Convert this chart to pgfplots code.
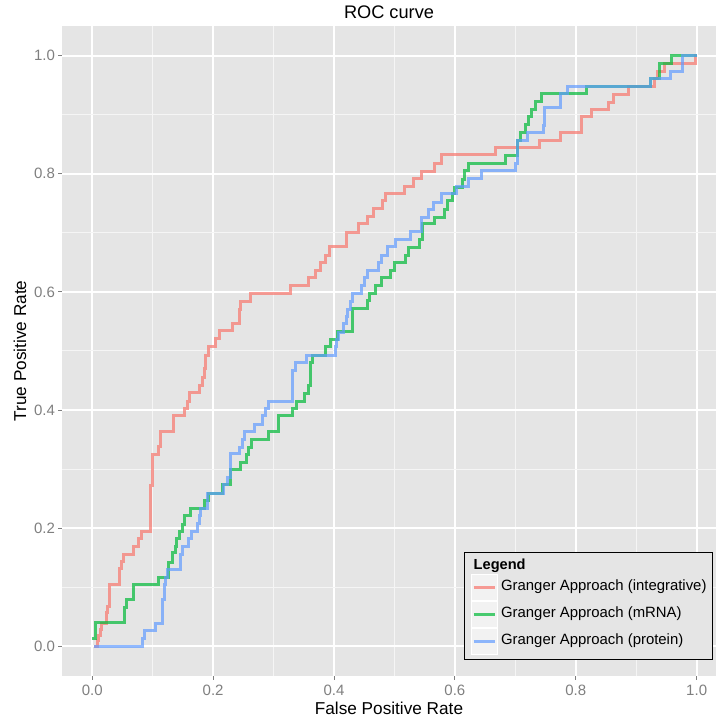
\documentclass[border=0pt]{standalone}
\usepackage{fontspec}
\setmainfont{Liberation Sans}
\usepackage{pgfplots}
\pgfplotsset{compat=1.18}

\definecolor{panel}{HTML}{E5E5E5}
\definecolor{keybg}{HTML}{F2F2F2}
\definecolor{minorgrid}{HTML}{F5F5F5}
\definecolor{ticktext}{HTML}{7F7F7F}
\definecolor{rocred}{HTML}{F8766D}
\definecolor{rocgreen}{HTML}{00BA38}
\definecolor{rocblue}{HTML}{619CFF}

\begin{document}
\begin{tikzpicture}
\begin{axis}[
    name=ax,
    scale only axis,
    width=327pt, height=325pt,
    xmin=-0.05, xmax=1.032, ymin=-0.05, ymax=1.05,
    axis background/.style={fill=panel},
    axis line style={draw=none},
    xtick={0,0.2,0.4,0.6,0.8,1}, ytick={0,0.2,0.4,0.6,0.8,1},
    xticklabels={0.0,0.2,0.4,0.6,0.8,1.0},
    yticklabels={0.0,0.2,0.4,0.6,0.8,1.0},
    minor xtick={0.1,0.3,0.5,0.7,0.9}, minor ytick={0.1,0.3,0.5,0.7,0.9},
    grid=both,
    major grid style={white, line width=1pt},
    minor grid style={minorgrid, line width=0.5pt},
    tick pos=left,
    tick align=outside,
    major tick length=2pt,
    minor tick length=0pt,
    tick style={ticktext, line width=0.5pt},
    tick label style={font=\fontsize{7.5}{9}\selectfont, text=ticktext},
    yticklabel style={xshift=2pt},
    xticklabel style={yshift=1pt},
    title={ROC curve},
    title style={font=\fontsize{9.1}{11}\selectfont, at={(axis description cs:0.5,1.003)}, anchor=center},
    xlabel={False Positive Rate},
    ylabel={True Positive Rate},
    xlabel style={font=\fontsize{8.6}{10}\selectfont, at={(axis description cs:0.5,-0.0492)}, anchor=center},
    ylabel style={font=\fontsize{8.6}{10}\selectfont, at={(axis description cs:-0.0642,0.5)}, anchor=center},
    legend style={at={(axis description cs:0.9954,0.0246)}, anchor=south east,
        draw=black, line width=0.5pt, fill=panel,
        inner xsep=3pt, inner ysep=2.5pt, row sep=0pt, column sep=1.7pt,
        font=\fontsize{7.45}{9}\selectfont, nodes={inner sep=0pt}},
    legend cell align=left,
    legend image code/.code={%
        \draw[draw=white, fill=keybg, line width=0.5pt, draw opacity=1] (0pt,-6.5pt) rectangle (13pt,6.5pt);
        \draw[#1] (1.2pt,0pt) -- (11.8pt,0pt);
    },
]

\addlegendimage{legend image code/.code={%
    \path[draw=none, fill=none] (0pt,-4pt) rectangle (13pt,4pt);
    \node[overlay, draw=none, fill=none, anchor=west, inner sep=0pt, font=\bfseries\fontsize{7.3}{9}\selectfont] at (1pt,0pt) {Legend};}}
\addlegendentry{}

% integrative
\addplot[rocred, line width=1.5pt, draw opacity=0.7] coordinates {
(0.003,0) (0.008,0) (0.008,0.010) (0.011,0.010) (0.011,0.018) (0.014,0.018) (0.014,0.028) (0.016,0.028)
(0.016,0.038) (0.023,0.038) (0.023,0.057) (0.026,0.057) (0.026,0.067) (0.029,0.067) (0.029,0.104) (0.045,0.104)
(0.045,0.132) (0.048,0.132) (0.048,0.143) (0.051,0.143) (0.051,0.156) (0.069,0.156) (0.069,0.169) (0.077,0.169)
(0.077,0.182) (0.081,0.182) (0.081,0.195) (0.096,0.195) (0.096,0.272) (0.099,0.272) (0.099,0.325) (0.110,0.325)
(0.110,0.338) (0.113,0.338) (0.113,0.364) (0.135,0.364) (0.135,0.391) (0.153,0.391) (0.153,0.402) (0.157,0.402)
(0.157,0.415) (0.161,0.415) (0.161,0.429) (0.177,0.429) (0.177,0.441) (0.182,0.441) (0.182,0.455) (0.185,0.455)
(0.185,0.470) (0.188,0.470) (0.188,0.492) (0.193,0.492) (0.193,0.508) (0.204,0.508) (0.204,0.521) (0.210,0.521)
(0.210,0.535) (0.232,0.535) (0.232,0.546) (0.243,0.546) (0.243,0.571) (0.246,0.571) (0.246,0.583) (0.262,0.583)
(0.262,0.597) (0.328,0.597) (0.328,0.611) (0.357,0.611) (0.357,0.624) (0.369,0.624) (0.369,0.637) (0.378,0.637)
(0.378,0.650) (0.386,0.650) (0.386,0.662) (0.392,0.662) (0.392,0.676) (0.420,0.676) (0.420,0.701) (0.441,0.701)
(0.441,0.715) (0.455,0.715) (0.455,0.728) (0.466,0.728) (0.466,0.741) (0.480,0.741) (0.480,0.755) (0.485,0.755)
(0.485,0.767) (0.517,0.767) (0.517,0.778) (0.531,0.778) (0.531,0.792) (0.545,0.792) (0.545,0.804) (0.567,0.804)
(0.567,0.818) (0.578,0.818) (0.578,0.832) (0.667,0.832) (0.667,0.845) (0.740,0.845) (0.740,0.856) (0.775,0.856)
(0.775,0.869) (0.810,0.869) (0.810,0.896) (0.826,0.896) (0.826,0.909) (0.854,0.909) (0.854,0.921) (0.863,0.921)
(0.863,0.934) (0.887,0.934) (0.887,0.947) (0.931,0.947) (0.931,0.961) (0.935,0.961) (0.935,0.973) (0.946,0.973)
(0.946,0.986) (0.998,0.986) (0.998,1) (1,1)
};
\addlegendentry{Granger Approach (integrative)}

% mRNA
\addplot[rocgreen, line width=1.5pt, draw opacity=0.7] coordinates {
(0,0.014) (0.006,0.014) (0.006,0.040) (0.053,0.040) (0.053,0.066) (0.056,0.066) (0.056,0.079) (0.069,0.079)
(0.069,0.104) (0.110,0.104) (0.110,0.117) (0.126,0.117) (0.126,0.142) (0.132,0.142) (0.132,0.159) (0.137,0.159)
(0.137,0.169) (0.139,0.169) (0.139,0.182) (0.145,0.182) (0.145,0.194) (0.149,0.194) (0.149,0.207) (0.153,0.207)
(0.153,0.221) (0.163,0.221) (0.163,0.234) (0.185,0.234) (0.185,0.247) (0.193,0.247) (0.193,0.259) (0.216,0.259)
(0.216,0.274) (0.229,0.274) (0.229,0.299) (0.246,0.299) (0.246,0.312) (0.255,0.312) (0.255,0.325) (0.259,0.325)
(0.259,0.337) (0.264,0.337) (0.264,0.350) (0.292,0.350) (0.292,0.364) (0.308,0.364) (0.308,0.390) (0.332,0.390)
(0.332,0.402) (0.338,0.402) (0.338,0.415) (0.352,0.415) (0.352,0.428) (0.357,0.428) (0.357,0.441) (0.361,0.441)
(0.361,0.481) (0.365,0.481) (0.365,0.493) (0.386,0.493) (0.386,0.507) (0.394,0.507) (0.394,0.520) (0.405,0.520)
(0.405,0.533) (0.430,0.533) (0.430,0.572) (0.455,0.572) (0.455,0.585) (0.458,0.585) (0.458,0.598) (0.468,0.598)
(0.468,0.610) (0.478,0.610) (0.478,0.624) (0.494,0.624) (0.494,0.637) (0.500,0.637) (0.500,0.650) (0.519,0.650)
(0.519,0.662) (0.524,0.662) (0.524,0.675) (0.541,0.675) (0.541,0.688) (0.547,0.688) (0.547,0.715) (0.567,0.715)
(0.567,0.726) (0.583,0.726) (0.583,0.739) (0.587,0.739) (0.587,0.754) (0.596,0.754) (0.596,0.767) (0.600,0.767)
(0.600,0.777) (0.612,0.777) (0.612,0.791) (0.616,0.791) (0.616,0.806) (0.622,0.806) (0.622,0.818) (0.683,0.818)
(0.683,0.831) (0.703,0.831) (0.703,0.856) (0.709,0.856) (0.709,0.870) (0.717,0.870) (0.717,0.883) (0.722,0.883)
(0.722,0.896) (0.727,0.896) (0.727,0.909) (0.734,0.909) (0.734,0.922) (0.743,0.922) (0.743,0.935) (0.817,0.935)
(0.817,0.947) (0.924,0.947) (0.924,0.961) (0.939,0.961) (0.939,0.986) (0.959,0.986) (0.959,1) (1,1)
};
\addlegendentry{Granger Approach (mRNA)}

% protein
\addplot[rocblue, line width=1.5pt, draw opacity=0.7] coordinates {
(0.003,0) (0.083,0) (0.083,0.014) (0.086,0.014) (0.086,0.027) (0.105,0.027) (0.105,0.039) (0.116,0.039)
(0.116,0.080) (0.119,0.080) (0.119,0.104) (0.122,0.104) (0.122,0.117) (0.125,0.117) (0.125,0.131) (0.146,0.131)
(0.146,0.156) (0.149,0.156) (0.149,0.169) (0.160,0.169) (0.160,0.182) (0.165,0.182) (0.165,0.194) (0.174,0.194)
(0.174,0.208) (0.177,0.208) (0.177,0.221) (0.179,0.221) (0.179,0.234) (0.190,0.234) (0.190,0.259) (0.218,0.259)
(0.218,0.274) (0.223,0.274) (0.223,0.286) (0.228,0.286) (0.228,0.326) (0.244,0.326) (0.244,0.337) (0.249,0.337)
(0.249,0.351) (0.252,0.351) (0.252,0.364) (0.268,0.364) (0.268,0.376) (0.281,0.376) (0.281,0.390) (0.287,0.390)
(0.287,0.402) (0.292,0.402) (0.292,0.415) (0.332,0.415) (0.332,0.467) (0.336,0.467) (0.336,0.480) (0.354,0.480)
(0.354,0.493) (0.402,0.493) (0.402,0.508) (0.404,0.508) (0.404,0.520) (0.408,0.520) (0.408,0.532) (0.416,0.532)
(0.416,0.546) (0.420,0.546) (0.420,0.558) (0.423,0.558) (0.423,0.571) (0.427,0.571) (0.427,0.584) (0.431,0.584)
(0.431,0.597) (0.446,0.597) (0.446,0.611) (0.450,0.611) (0.450,0.624) (0.455,0.624) (0.455,0.636) (0.474,0.636)
(0.474,0.649) (0.478,0.649) (0.478,0.662) (0.488,0.662) (0.488,0.676) (0.501,0.676) (0.501,0.688) (0.527,0.688)
(0.527,0.702) (0.544,0.702) (0.544,0.726) (0.557,0.726) (0.557,0.739) (0.564,0.739) (0.564,0.752) (0.578,0.752)
(0.578,0.766) (0.603,0.766) (0.603,0.778) (0.622,0.778) (0.622,0.792) (0.644,0.792) (0.644,0.805) (0.701,0.805)
(0.701,0.818) (0.704,0.818) (0.704,0.857) (0.720,0.857) (0.720,0.870) (0.746,0.870) (0.746,0.882) (0.749,0.882)
(0.749,0.912) (0.774,0.912) (0.774,0.935) (0.787,0.935) (0.787,0.947) (0.924,0.947) (0.924,0.961) (0.957,0.961)
(0.957,0.973) (0.976,0.973) (0.976,1) (1,1)
};
\addlegendentry{Granger Approach (protein)}

\end{axis}
\pgfresetboundingbox
\path ([xshift=-31pt,yshift=-22.5pt]ax.south west) rectangle ([xshift=0.5pt,yshift=13pt]ax.north east);
\end{tikzpicture}
\end{document}
